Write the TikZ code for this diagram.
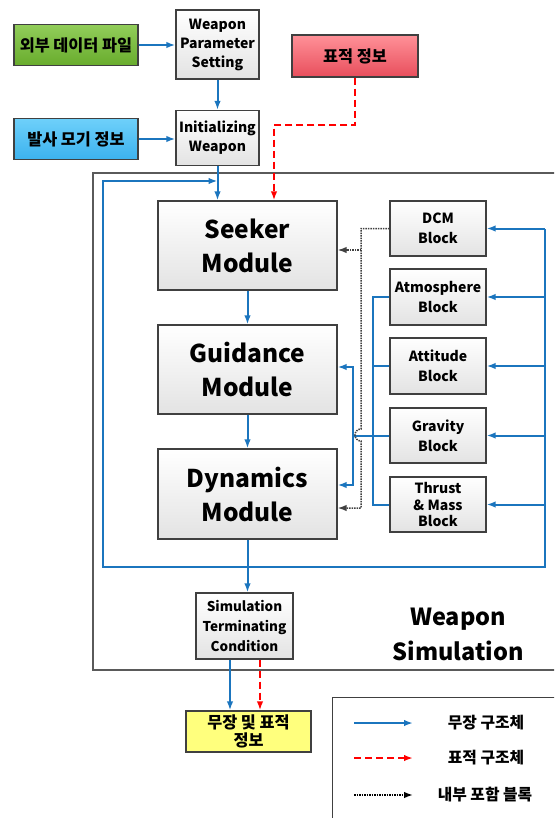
\documentclass[tikz,border=0pt]{standalone}
\usepackage{fontspec}
\setmainfont{Noto Sans CJK KR}
\usetikzlibrary{arrows.meta}
\definecolor{wblue}{RGB}{27,117,190}
\definecolor{boxgray}{RGB}{64,64,64}
\definecolor{framegray}{RGB}{90,90,90}
\definecolor{greentop}{RGB}{145,205,90}
\definecolor{greenbot}{RGB}{105,172,45}
\definecolor{skytop}{RGB}{110,208,250}
\definecolor{skybot}{RGB}{60,178,238}
\definecolor{pinktop}{RGB}{255,145,152}
\definecolor{pinkbot}{RGB}{232,78,92}
\definecolor{lemon}{RGB}{255,255,125}
\tikzset{
  box/.style={draw=boxgray, line width=1.3pt, top color=white, bottom color=gray!22,
    align=center, inner sep=0pt, font=\bfseries\fontsize{14}{19}\selectfont},
  module/.style={box, minimum width=179pt, minimum height=89pt, font=\bfseries\fontsize{24.5}{34}\selectfont},
  block/.style={box, minimum width=96pt, minimum height=55pt, font=\bfseries\fontsize{14}{20}\selectfont},
  info/.style={draw=boxgray, line width=1.3pt, minimum width=124pt, minimum height=41pt,
    align=center, inner sep=0pt, font=\bfseries\fontsize{16.3}{18}\selectfont},
  wline/.style={wblue, line width=2pt},
  tline/.style={red, line width=2pt, dash pattern=on 7pt off 4pt},
  iline/.style={black!75, line width=1.5pt, densely dotted},
  lgtext/.style={font=\bfseries\fontsize{15.8}{17}\selectfont},
}
\begin{document}
\begin{tikzpicture}[x=1pt, y=-1pt, >={Latex[length=9pt,width=6.5pt]}]
\useasboundingbox (0,0) rectangle (554,818);
\clip (0,0) rectangle (554,818);
% simulation frame
\draw[framegray, line width=1.8pt, fill=white] (93,173) rectangle (570,670);
\node[font=\bfseries\fontsize{23.5}{35}\selectfont, align=center] (simlbl) at (458,634) {Weapon\\Simulation};
% inputs
\node[info, top color=greentop, bottom color=greenbot] (extfile) at (76,45) {외부 데이터 파일};
\node[info, top color=skytop, bottom color=skybot] (launch) at (76,139) {발사 모기 정보};
\node[info, top color=pinktop, bottom color=pinkbot, minimum width=126pt, minimum height=42pt] (target) at (355,56) {표적 정보};
\node[box, minimum width=83pt, minimum height=69pt] (wps) at (217.5,44.5) {Weapon\\Parameter\\Setting};
\node[box, minimum width=83pt, minimum height=55pt] (init) at (217.5,138) {Initializing\\Weapon};
% modules
\node[module] (seeker) at (247.5,245.5) {Seeker\\Module};
\node[module] (guid) at (247.5,369.5) {Guidance\\Module};
\node[module, minimum height=90pt] (dyn) at (247.5,494) {Dynamics\\Module};
% blocks
\node[block] (dcm) at (438,228.5) {DCM\\Block};
\node[block, minimum height=56pt] (atm) at (438,297) {Atmosphere\\Block};
\node[block, minimum height=56pt] (att) at (438,366) {Attitude\\Block};
\node[block] (grav) at (438,435.5) {Gravity\\Block};
\node[block, font=\bfseries\fontsize{14}{16.5}\selectfont] (thr) at (438,504.5) {Thrust\\\& Mass\\Block};
% end of run
\node[box, minimum width=97pt, minimum height=66pt, font=\bfseries\fontsize{13.5}{20}\selectfont] (term) at (244.5,626) {Simulation\\Terminating\\Condition};
\node[info, fill=lemon, minimum width=125pt] (result) at (248.5,731.5) {무장 및 표적\\정보};

% weapon flow
\draw[wline,->] (extfile.east) -- (extfile.east -| wps.west);
\draw[wline,->] (wps) -- (init);
\draw[wline,->] (launch.east) -- (launch.east -| init.west);
\draw[wline,->] (init.south) -- (init.south |- seeker.north);
\draw[wline,->] (seeker) -- (guid);
\draw[wline,->] (guid) -- (dyn);
\draw[wline,->] (dyn.south) -- (dyn.south |- term.north);
% loop back
\coordinate (railL) at (103,567);
\coordinate (railR) at (545,567);
\coordinate (topL) at (103,181);
\draw[wline,->] (dyn.south |- railL) -- (railL) -- (topL) -- (topL -| init.south);
\draw[wline] (dyn.south |- railR) -- (railR) -- (railR |- dcm.east);
\foreach \b in {dcm,atm,att,grav,thr}
  \draw[wline,->] (railR |- \b.east) -- (\b.east);
% block outputs
\coordinate (busA) at (373,0);
\coordinate (busB) at (353,0);
\coordinate (gIn) at ([yshift=2.5pt]guid.east);
\coordinate (dIn) at ([yshift=9pt]dyn.east);
\draw[wline] (atm.west) -- (atm.west -| busA) -- (thr.west -| busA) -- (thr.west);
\draw[wline] (att.west) -- (att.west -| busA);
\draw[wline] (grav.west) -- (grav.west -| busB);
\draw[wline,<->] (gIn) -- (gIn -| busB) -- (dIn -| busB) -- (dIn);
% DCM link
\coordinate (busC) at (361,0);
\coordinate (hop) at (361,429);
\coordinate (sIn) at ([yshift=-4.5pt]seeker.east);
\coordinate (dIn2) at ([yshift=-14pt]dyn.east);
\draw[iline,->] (dcm.west) -- (dcm.west -| busC) -- (hop) arc[start angle=270, end angle=90, radius=6] -- (busC |- dIn2) -- (dIn2);
\draw[iline,->] (sIn -| busC) -- (sIn);
% target flow
\coordinate (bendT) at (0,125);
\coordinate (seekT) at ([xshift=26.5pt]seeker.north);
\draw[tline,->] (target.south) -- (target.south |- bendT) -- (bendT -| seekT) -- (seekT);
\coordinate (outB) at ([xshift=-14.5pt]term.south);
\coordinate (outR) at ([xshift=15.5pt]term.south);
\draw[wline,->] (outB) -- (outB |- result.north);
\draw[tline,->] (outR) -- (outR |- result.north);

% legend
\node[draw=boxgray, line width=1.3pt, fill=white, minimum width=240pt, minimum height=140pt, anchor=north west] (legend) at (332,697) {};
\coordinate (lgA) at (354,723);
\coordinate (lgB) at (354,758);
\coordinate (lgC) at (354,795);
\draw[wline,->] (lgA) -- ++(59,0);
\draw[tline,->] (lgB) -- ++(59,0);
\draw[black, line width=1.5pt, densely dotted,->] (lgC) -- ++(59,0);
\node[lgtext] (lgAt) at (486,723) {무장 구조체};
\node[lgtext] (lgBt) at (486,758) {표적 구조체};
\node[lgtext] (lgCt) at (485,795) {내부 포함 블록};
\end{tikzpicture}
\end{document}
